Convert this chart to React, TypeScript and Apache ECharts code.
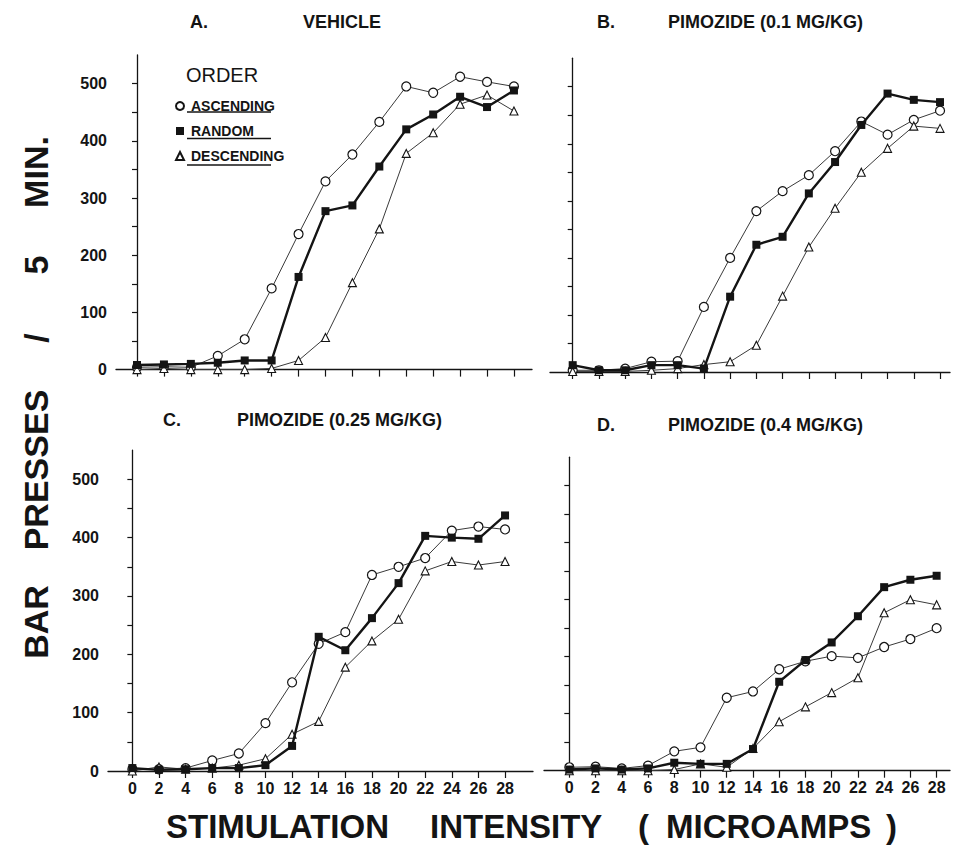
import React, { useEffect, useRef } from "react";
import * as echarts from "echarts";

const X = [0, 2, 4, 6, 8, 10, 12, 14, 16, 18, 20, 22, 24, 26, 28];
const X_TICKS = [0, 2, 4, 6, 8, 10, 12, 14, 16, 18, 20, 22, 24, 26, 28];
const Y_TICKS = [0, 50, 100, 150, 200, 250, 300, 350, 400, 450, 500];
const Y_LABELS = [0, 100, 200, 300, 400, 500];

const A_ASC = [4, 5, 4, 24, 53, 142, 237, 329, 376, 433, 495, 484, 512, 503, 495];
const A_RAN = [8, 9, 10, 12, 16, 16, 162, 277, 287, 355, 420, 446, 477, 459, 488];
const A_DES = [0, 2, 0, 0, 0, 2, 16, 56, 152, 246, 378, 414, 464, 480, 452];
const B_ASC = [3, 3, 6, 18, 19, 114, 200, 282, 317, 345, 387, 439, 416, 442, 458];
const B_RAN = [12, 3, 3, 12, 12, 6, 132, 223, 237, 313, 368, 433, 488, 477, 473];
const B_DES = [1, 1, 1, 3, 6, 13, 18, 47, 133, 219, 287, 350, 392, 431, 427];
const C_ASC = [3, 3, 5, 18, 30, 82, 152, 218, 238, 336, 350, 365, 412, 419, 414];
const C_RAN = [5, 2, 3, 5, 5, 10, 43, 230, 207, 262, 322, 403, 400, 398, 438];
const C_DES = [0, 7, 3, 5, 10, 21, 63, 85, 178, 223, 260, 343, 359, 353, 359];
const D_ASC = [6, 7, 4, 9, 34, 41, 128, 139, 178, 192, 201, 198, 217, 231, 250];
const D_RAN = [2, 4, 2, 4, 14, 12, 12, 38, 156, 194, 225, 271, 322, 335, 342];
const D_DES = [0, 0, 0, 0, 2, 12, 6, 39, 86, 112, 137, 163, 277, 300, 291];

const PANELS = [
  { asc: A_ASC, ran: A_RAN, des: A_DES },
  { asc: B_ASC, ran: B_RAN, des: B_DES },
  { asc: C_ASC, ran: C_RAN, des: C_DES },
  { asc: D_ASC, ran: D_RAN, des: D_DES },
];

const FONT = "'Liberation Sans', Arial, Helvetica, sans-serif";
const INK = "#141414";

const GRIDS = [
  { left: 116, top: 55, width: 416, height: 314.6 },
  { left: 550, top: 58.2, width: 400, height: 313.8 },
  { left: 108, top: 450.1, width: 425, height: 320.9 },
  { left: 544, top: 457.2, width: 406, height: 313.5 },
];
const X_RANGE = [
  [-1.56, 29.34],
  [-1.73, 28.76],
  [-1.83, 30.1],
  [-1.93, 29.02],
];

export default function App() {
  const ref = useRef<HTMLDivElement>(null);
  useEffect(() => {
    if (!ref.current) return;
    const chart = echarts.init(ref.current, undefined, { renderer: "svg" });

    const xAxes = GRIDS.map((_, i) => ({
      type: "value",
      gridIndex: i,
      min: X_RANGE[i][0],
      max: X_RANGE[i][1],
      splitLine: { show: false },
      axisLine: { show: true, onZero: false, lineStyle: { color: INK, width: 1.3 } },
      axisTick: {
        show: true,
        inside: false,
        length: 7,
        customValues: X_TICKS,
        lineStyle: { color: INK, width: 1.2 },
      },
      axisLabel: {
        show: i >= 2,
        customValues: X_TICKS,
        margin: 9,
        fontSize: 16,
        fontWeight: "bold",
        fontFamily: FONT,
        color: INK,
      },
    }));

    const yAxes = GRIDS.map((_, i) => ({
      type: "value",
      gridIndex: i,
      min: 0,
      max: 550,
      splitLine: { show: false },
      axisLine: { show: true, lineStyle: { color: INK, width: 1.3 } },
      axisTick: {
        show: true,
        length: 5,
        customValues: Y_TICKS,
        lineStyle: { color: INK, width: 1.2 },
      },
      axisLabel: {
        show: i === 0 || i === 2,
        customValues: Y_LABELS,
        margin: 9,
        fontSize: 16,
        fontWeight: "bold",
        fontFamily: FONT,
        color: INK,
      },
    }));

    const series: any[] = [];
    PANELS.forEach((p, i) => {
      series.push({
        name: "ASCENDING",
        type: "line",
        xAxisIndex: i,
        yAxisIndex: i,
        data: X.map((x, k) => [x, p.asc[k]]),
        symbol: "circle",
        symbolSize: 9,
        itemStyle: { color: "#ffffff", borderColor: INK, borderWidth: 1.2 },
        lineStyle: { color: "#3a3a3a", width: 1 },
        z: 3,
      });
      series.push({
        name: "DESCENDING",
        type: "line",
        xAxisIndex: i,
        yAxisIndex: i,
        data: X.map((x, k) => [x, p.des[k]]),
        symbol: "triangle",
        symbolSize: 8,
        itemStyle: { color: "#ffffff", borderColor: INK, borderWidth: 1.1 },
        lineStyle: { color: "#3a3a3a", width: 1 },
        z: 3,
      });
      series.push({
        name: "RANDOM",
        type: "line",
        xAxisIndex: i,
        yAxisIndex: i,
        data: X.map((x, k) => [x, p.ran[k]]),
        symbol: "rect",
        symbolSize: 8,
        itemStyle: { color: INK, borderColor: INK, borderWidth: 0 },
        lineStyle: { color: INK, width: 2.4 },
        z: 4,
      });
    });

    const titleStyle = (text: string, x: number, y: number, size = 18) => ({
      type: "text",
      x,
      y,
      style: {
        text,
        fontSize: size,
        fontWeight: "bold",
        fontFamily: FONT,
        fill: INK,
        align: "left",
        verticalAlign: "middle",
      },
    });

    const vText = (text: string, cx: number, cy: number) => ({
      type: "text",
      x: cx,
      y: cy,
      rotation: Math.PI / 2,
      style: {
        text,
        fontSize: 34,
        fontWeight: "bold",
        fontFamily: FONT,
        fill: INK,
        align: "center",
        verticalAlign: "middle",
      },
    });

    const hText = (text: string, x: number, y: number) => ({
      type: "text",
      x,
      y,
      style: {
        text,
        fontSize: 33,
        fontWeight: "bold",
        fontFamily: FONT,
        fill: INK,
        align: "left",
        verticalAlign: "middle",
      },
    });

    const underline = (y: number) => ({
      type: "line",
      shape: { x1: 187, y1: y, x2: 271, y2: y },
      style: { stroke: INK, lineWidth: 1.4 },
    });

    chart.setOption({
      animation: false,
      backgroundColor: "#ffffff",
      grid: GRIDS,
      xAxis: xAxes,
      yAxis: yAxes,
      legend: {
        orient: "vertical",
        left: 170,
        top: 94,
        itemWidth: 8,
        itemHeight: 8,
        itemGap: 11,
        selectedMode: false,
        data: [
          { name: "ASCENDING", icon: "circle" },
          { name: "RANDOM", icon: "rect" },
          { name: "DESCENDING", icon: "triangle" },
        ],
        textStyle: {
          fontSize: 14,
          fontWeight: "bold",
          fontFamily: FONT,
          color: INK,
          padding: [0, 0, 0, 2],
        },
      },
      graphic: [
        {
          type: "text",
          x: 222,
          y: 75,
          style: {
            text: "ORDER",
            fontSize: 20,
            fontFamily: FONT,
            fill: INK,
            align: "center",
            verticalAlign: "middle",
          },
        },
        underline(112),
        underline(138.5),
        underline(165),
        titleStyle("A.", 190, 22),
        titleStyle("VEHICLE", 303, 22),
        titleStyle("B.", 597, 22),
        titleStyle("PIMOZIDE (0.1 MG/KG)", 668, 22),
        titleStyle("C.", 163, 420),
        titleStyle("PIMOZIDE (0.25 MG/KG)", 237, 420),
        titleStyle("D.", 597, 425),
        titleStyle("PIMOZIDE (0.4 MG/KG)", 668, 425),
        vText("BAR", 36, 622),
        vText("PRESSES", 36, 470),
        vText("/", 36, 338),
        vText("5", 36, 265),
        vText("MIN.", 36, 172),
        hText("STIMULATION", 166, 826),
        hText("INTENSITY", 430, 826),
        hText("(", 638, 826),
        hText("MICROAMPS", 666, 826),
        hText(")", 886, 826),
      ],
      series,
    });

    return () => {
      chart.dispose();
    };
  }, []);

  return (
    <div
      ref={ref}
      style={{ position: "absolute", left: 0, top: 0, width: 955, height: 851, background: "#fff" }}
    />
  );
}
